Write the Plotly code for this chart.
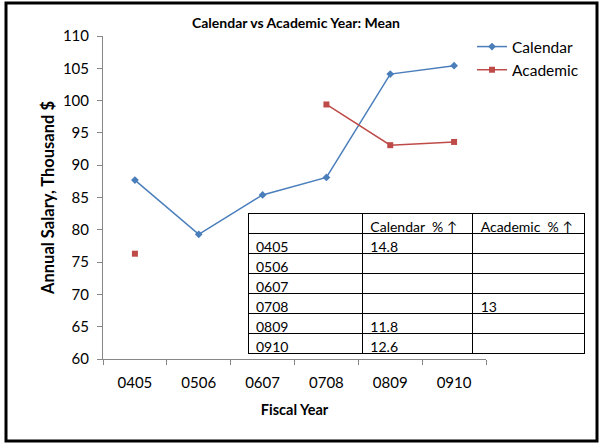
import plotly.graph_objects as go

years = ["0405", "0506", "0607", "0708", "0809", "0910"]
calendar = [87.7, 79.3, 85.4, 88.1, 104.1, 105.4]
academic = [76.3, None, None, 99.4, 93.1, 93.6]

table_header = ["", "Calendar\u00a0\u00a0%\u00a0\u2191", "Academic\u00a0\u00a0%\u00a0\u2191"]
table_cal = ["14.8", "", "", "", "11.8", "12.6"]
table_aca = ["", "", "", "13", "", ""]

FONT = "Lato, Liberation Sans, sans-serif"

W, H = 603, 445
L, R, T, B = 103, 14, 36, 86
pw = W - L - R
ph = H - T - B
axis_right = 486

def px_x(x):
    return (x - L) / pw

def px_y(y):
    return (H - B - y) / ph

fig = go.Figure()
fig.add_trace(go.Scatter(
    x=years, y=calendar, name="Calendar", mode="lines+markers",
    line=dict(color="#4A7EBB", width=1.5),
    marker=dict(symbol="diamond", size=6, color="#4A7EBB"),
    legendgroup="a",
))
fig.add_trace(go.Scatter(
    x=years, y=academic, name="Academic", mode="lines+markers",
    line=dict(color="#BE4B48", width=1.5),
    marker=dict(symbol="square", size=6, color="#BE4B48"),
    connectgaps=False, legendgroup="b",
))

fig.add_trace(go.Table(
    domain=dict(x=[px_x(248), px_x(584)], y=[px_y(354), px_y(213)]),
    columnwidth=[114, 110, 111],
    header=dict(values=table_header, align="left", height=20,
                line=dict(color="black", width=1), fill=dict(color="white"),
                font=dict(family=FONT, size=14, color="black")),
    cells=dict(values=[years, table_cal, table_aca], align="left", height=20,
               line=dict(color="black", width=1), fill=dict(color="white"),
               font=dict(family=FONT, size=14, color="black")),
))

fig.add_shape(type="rect", xref="paper", yref="paper",
              x0=px_x(6), x1=px_x(597), y0=px_y(441), y1=px_y(3),
              line=dict(color="black", width=3), layer="above")

fig.update_layout(
    width=W, height=H,
    margin=dict(l=L, r=R, t=T, b=B, autoexpand=False),
    paper_bgcolor="white", plot_bgcolor="white",
    font=dict(family=FONT, color="black"),
    title=dict(text="<b>Calendar vs Academic Year: Mean</b>", x=296 / W, xref="container",
               xanchor="center", y=1 - 23 / H, yref="container", yanchor="middle",
               font=dict(size=14, family=FONT, color="black")),
    showlegend=True,
    legend=dict(x=px_x(472), y=px_y(30), xanchor="left", yanchor="top",
                font=dict(size=15.5, family=FONT, color="black"),
                tracegroupgap=0, bgcolor="rgba(0,0,0,0)", itemwidth=30),
    xaxis=dict(domain=[0, (axis_right - L) / pw], showgrid=False, automargin=False,
               showline=True, linecolor="#878787", linewidth=1,
               ticks="outside", ticklen=5, tickcolor="#878787", tickson="boundaries",
               ticklabelstandoff=10,
               tickfont=dict(size=15, family=FONT, color="black"),
               title=dict(text="<b>Fiscal Year</b>", font=dict(size=14.5, family=FONT, color="black"), standoff=14),
               range=[-0.5, 5.5], fixedrange=True),
    yaxis=dict(range=[60, 110], dtick=5, showgrid=False, zeroline=False, automargin=False,
               showline=True, linecolor="#878787", linewidth=1,
               ticks="outside", ticklen=5, tickcolor="#878787",
               ticklabelstandoff=5,
               tickfont=dict(size=15, family=FONT, color="black"),
               title=dict(text="<b>Annual Salary, Thousand $</b>", font=dict(size=16.5, family=FONT, color="black"), standoff=4)),
)

fig.write_html("out.html", post_script="document.body.style.margin='0';",
               config={"displayModeBar": False})
